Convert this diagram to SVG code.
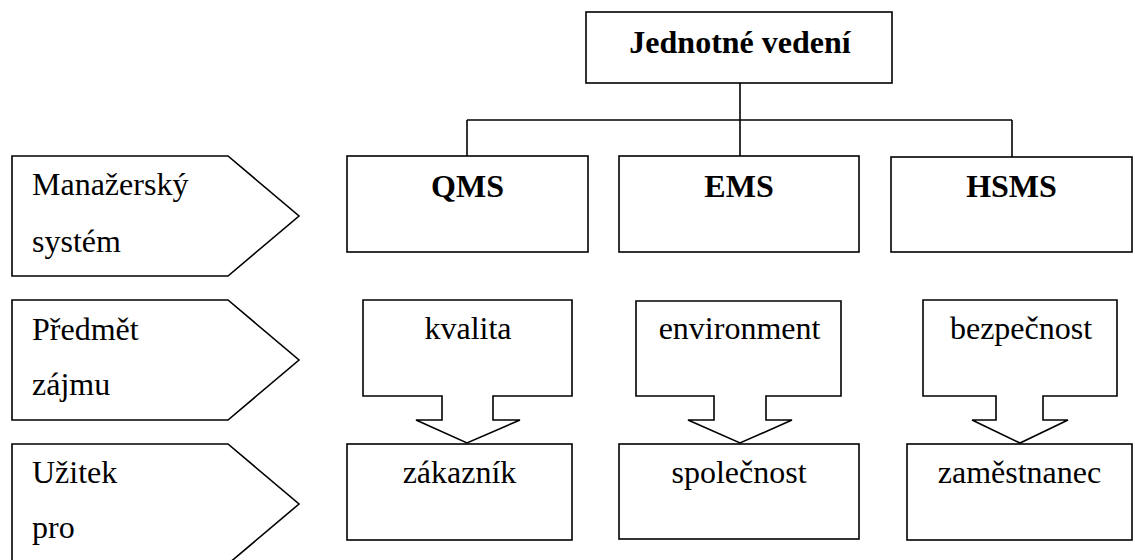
<svg xmlns="http://www.w3.org/2000/svg" width="1135" height="560" viewBox="0 0 1135 560" font-family="Liberation Serif, DejaVu Serif, serif">
  <style>
    .shape { fill: #ffffff; stroke: #000000; stroke-width: 1.6; stroke-linejoin: miter; }
    .wire { fill: none; stroke: #000000; stroke-width: 1.6; }
    .lbl { font-family: "Liberation Serif", "DejaVu Serif", serif; font-size: 32px; fill: #000000; }
    .bold { font-weight: bold; }
    .mid { text-anchor: middle; }
  </style>

  <!-- background -->
  <rect x="0" y="0" width="1135" height="560" fill="#ffffff"/>

  <!-- tree connectors -->
  <g id="connectors">
    <path class="wire" d="M740 83 V156"/>
    <path class="wire" d="M467 120 H1012"/>
    <path class="wire" d="M467 120 V156"/>
    <path class="wire" d="M1012 120 V157"/>
  </g>

  <!-- root -->
  <g id="jednotne-vedeni">
    <rect class="shape" x="586" y="12" width="306" height="71"/>
    <text class="lbl bold mid" x="740" y="53">Jednotné vedení</text>
  </g>

  <!-- row labels (pentagon arrows) -->
  <g id="label-manazersky">
    <path class="shape" d="M12 156 H228 L299 216 L228 276 H12 Z"/>
    <text class="lbl" x="32" y="195">Manažerský</text>
    <text class="lbl" x="32" y="252">systém</text>
  </g>
  <g id="label-predmet">
    <path class="shape" d="M12 300 H228 L299 360 L228 420 H12 Z"/>
    <text class="lbl" x="32" y="340">Předmět</text>
    <text class="lbl" x="32" y="395">zájmu</text>
  </g>
  <g id="label-uzitek">
    <path class="shape" d="M12 444 H228 L299 504 L228 564 H12 Z"/>
    <text class="lbl" x="32" y="483">Užitek</text>
    <text class="lbl" x="32" y="538">pro</text>
  </g>

  <!-- management systems -->
  <g id="qms">
    <rect class="shape" x="347" y="156" width="241" height="96"/>
    <text class="lbl bold mid" x="467.5" y="197">QMS</text>
  </g>
  <g id="ems">
    <rect class="shape" x="619" y="156" width="240" height="96"/>
    <text class="lbl bold mid" x="739" y="197">EMS</text>
  </g>
  <g id="hsms">
    <rect class="shape" x="891" y="157" width="241" height="95"/>
    <text class="lbl bold mid" x="1011.5" y="197">HSMS</text>
  </g>

  <!-- subjects of interest (down-arrow callouts) -->
  <g id="kvalita">
    <path class="shape" d="M363 300 H572 V396 H493 V420 H520 L467 443 L416 420 H442 V396 H363 Z"/>
    <text class="lbl mid" x="468" y="339">kvalita</text>
  </g>
  <g id="environment">
    <path class="shape" d="M636 301 H841 V396 H766 V420 H792 L740 443 L688 420 H714 V396 H636 Z"/>
    <text class="lbl mid" x="739.5" y="339">environment</text>
  </g>
  <g id="bezpecnost">
    <path class="shape" d="M923 300 H1117 V396 H1043 V420 H1068 L1020 443 L972 420 H996 V396 H923 Z"/>
    <text class="lbl mid" x="1021" y="339">bezpečnost</text>
  </g>

  <!-- beneficiaries -->
  <g id="zakaznik">
    <rect class="shape" x="347" y="444" width="225" height="96"/>
    <text class="lbl mid" x="459.5" y="483">zákazník</text>
  </g>
  <g id="spolecnost">
    <rect class="shape" x="619" y="444" width="240" height="95"/>
    <text class="lbl mid" x="739" y="483">společnost</text>
  </g>
  <g id="zamestnanec">
    <rect class="shape" x="907" y="444" width="225" height="96"/>
    <text class="lbl mid" x="1019.5" y="483">zaměstnanec</text>
  </g>
</svg>
